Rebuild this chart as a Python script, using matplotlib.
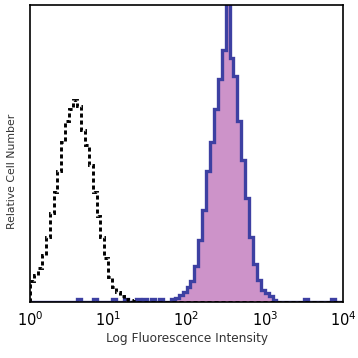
#!/usr/bin/env python3
"""Flow cytometry overlay: isotype control (dashed) vs stained sample (filled)."""

import numpy as np
import matplotlib
matplotlib.use("Agg")
import matplotlib.pyplot as plt

# histogram bins in log10 decades, 0.05 decade wide, from 10^0 to 10^4
bin_width = 0.05
n_bins = 80

# isotype control (dashed), first 28 bins starting at 10^0, relative height
isotype = [0.07, 0.09, 0.115, 0.16, 0.22, 0.30, 0.37, 0.44, 0.54, 0.61,
           0.65, 0.68, 0.66, 0.58, 0.53, 0.46, 0.37, 0.29, 0.22, 0.15,
           0.085, 0.05, 0.035, 0.02, 0.012, 0.007, 0.004, 0.002]

# stained sample, main peak from bin 37 (10^1.85) on
stained_start = 37
stained_peak = [0.015, 0.025, 0.035, 0.05, 0.07, 0.12, 0.21, 0.31, 0.44, 0.54,
                0.65, 0.75, 0.85, 1.05, 0.82, 0.76, 0.61, 0.48, 0.35, 0.22,
                0.13, 0.075, 0.04, 0.03, 0.02, 0.008]

# single rare events of the stained sample (bin index)
rare_bins = [12, 16, 21, 24, 27, 29, 31, 33, 36, 70, 77]
rare_height = 0.012

tick_labels = [r"$10^0$", r"$10^1$", r"$10^2$", r"$10^3$", r"$10^4$"]

edges = 10 ** (np.arange(n_bins + 1) * bin_width)

iso = np.zeros(n_bins)
iso[:len(isotype)] = isotype

stained = np.zeros(n_bins)
stained[stained_start:stained_start + len(stained_peak)] = stained_peak
for b in rare_bins:
    stained[b] = rare_height

fig = plt.figure(figsize=(3.58, 3.58), dpi=100)
ax = fig.add_axes([0.084, 0.156, 0.874, 0.83])

ax.stairs(stained, edges, fill=True, color="#cd93c9", zorder=1)
ax.stairs(stained, edges, color="#3d40a2", linewidth=2.4, zorder=2)
ax.stairs(iso, edges, color="black", linewidth=2.1,
          linestyle=(0, (1.4, 1.0)), zorder=3)

ax.set_xscale("log")
ax.set_xlim(1, 1e4)
ax.set_ylim(0, 1)
ax.set_xticks([1, 10, 100, 1000, 10000])
ax.set_xticklabels(tick_labels, fontsize=10.5)
ax.xaxis.set_minor_locator(matplotlib.ticker.NullLocator())
ax.tick_params(axis="x", length=0, pad=6)
ax.set_yticks([])

for s in ax.spines.values():
    s.set_linewidth(1.2)
    s.set_zorder(4)

ax.set_xlabel("Log Fluorescence Intensity", fontsize=8.7, color="#333333", labelpad=2)
ax.set_ylabel("Relative Cell Number", fontsize=7.8, color="#333333")
ax.yaxis.set_label_coords(-0.042, 0.44)

plt.savefig("out.png", dpi=100)
